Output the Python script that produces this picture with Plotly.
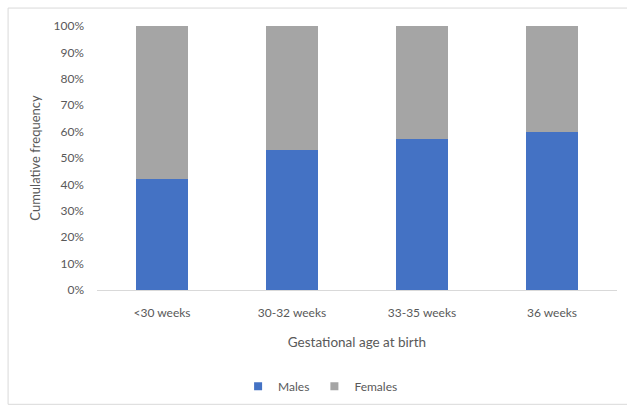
import plotly.graph_objects as go

categories = ["<30 weeks", "30-32 weeks", "33-35 weeks", "36 weeks"]
males = [0.42, 0.53, 0.572, 0.598]
females = [0.58, 0.47, 0.428, 0.402]
tick_vals = [0, 0.1, 0.2, 0.3, 0.4, 0.5, 0.6, 0.7, 0.8, 0.9, 1.0]
tick_text = ["0%", "10%", "20%", "30%", "40%", "50%", "60%", "70%", "80%", "90%", "100%"]

font_family = "Lato, Open Sans, sans-serif"
grey = "#595959"
blue = "#4472C4"
silver = "#A5A5A5"

fig = go.Figure()
fig.add_trace(go.Bar(x=categories, y=males, name="Males", marker_color=blue, marker_line_width=0, showlegend=False))
fig.add_trace(go.Bar(x=categories, y=females, name="Females", marker_color=silver, marker_line_width=0, showlegend=False))
# legend entries with small square keys
fig.add_trace(go.Scatter(x=[None], y=[None], mode="markers", name="Males",
                         marker=dict(symbol="square", size=8, color=blue)))
fig.add_trace(go.Scatter(x=[None], y=[None], mode="markers", name="Females",
                         marker=dict(symbol="square", size=8, color=silver)))

fig.update_layout(
    barmode="stack",
    bargap=0.6,
    width=627, height=407,
    margin=dict(l=97, r=10, t=26, b=117, autoexpand=False),
    paper_bgcolor="white", plot_bgcolor="white",
    font=dict(family=font_family, size=12, color=grey),
    showlegend=True,
    legend=dict(orientation="h", x=0.43, xanchor="center", y=-0.31, yanchor="top",
                font=dict(size=12, color=grey), itemwidth=30, traceorder="normal"),
    xaxis=dict(showline=True, linecolor="#D9D9D9", linewidth=1, ticks="", showgrid=False,
               tickfont=dict(size=12, color=grey), ticklabelstandoff=12, automargin=False,
               title=dict(text="Gestational age at birth", font=dict(size=13.5, color=grey), standoff=18)),
    yaxis=dict(range=[0, 1.0], tickvals=tick_vals, ticktext=tick_text, showgrid=False,
               zeroline=False, showline=False, ticks="", ticklabelstandoff=12, automargin=False,
               tickfont=dict(size=12, color=grey),
               title=dict(text="Cumulative frequency", font=dict(size=13, color=grey), standoff=9)),
    shapes=[dict(type="rect", xref="paper", yref="paper", x0=-0.171, x1=1.1, y0=-0.433, y1=1.068,
                 line=dict(color="#D9D9D9", width=1), fillcolor="rgba(0,0,0,0)", layer="below")],
)

fig.write_html("out.html")
